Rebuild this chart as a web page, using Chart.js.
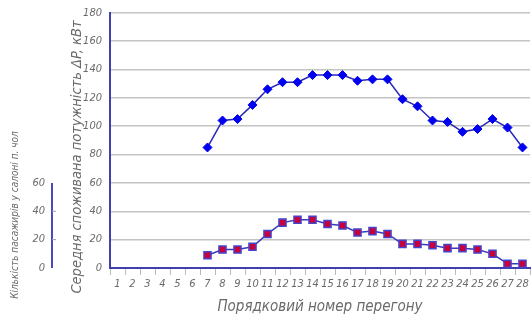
<!DOCTYPE html>
<html><head><meta charset="utf-8">
<script src="https://cdn.jsdelivr.net/npm/chart.js@4"></script>
<style>html,body{margin:0;padding:0;background:#fff}#wrap{width:532px;height:323px}</style>
</head><body><div id="wrap"><canvas id="c" width="532" height="323"></canvas></div>
<script>
const categories = ['1','2','3','4','5','6','7','8','9','10','11','12','13','14','15','16','17','18','19','20','21','22','23','24','25','26','27','28'];
const powerValues = [null,null,null,null,null,null,85,104,105,115,126,131,131,136,136,136,132,133,133,119,114,104,103,96,98,105,99,85];
const passengerValues = [null,null,null,null,null,null,9,13,13,15,24,32,34,34,31,30,25,26,24,17,17,16,14,14,13,10,3,3];
const yTitle = 'Середня споживана потужність ΔP, кВт';
const y1Title = 'Кількість пасажирів у салоні п. чол';
const xTitle = 'Порядковий номер перегону';

const FONT = "'Liberation Sans Narrow','DejaVu Sans Condensed',sans-serif";
const TXT = '#6a6a6a';

const overlay = {
  id: 'overlay',
  afterDraw(chart) {
    const ctx = chart.ctx;
    const y1 = chart.scales.y1;
    ctx.save();
    const lx = y1.right - 4;
    ctx.strokeStyle = '#4a4ab8';
    ctx.lineWidth = 2;
    ctx.beginPath();
    ctx.moveTo(lx, y1.getPixelForValue(0));
    ctx.lineTo(lx, y1.getPixelForValue(60));
    ctx.stroke();
    ctx.lineWidth = 1;
    ctx.strokeStyle = '#9a9ad0';
    [20, 40].forEach(v => {
      const py = y1.getPixelForValue(v);
      ctx.beginPath(); ctx.moveTo(lx, py); ctx.lineTo(lx + 4, py); ctx.stroke();
    });
    ctx.fillStyle = TXT;
    ctx.textAlign = 'center';
    ctx.textBaseline = 'middle';
    ctx.save();
    ctx.translate(77, 157);
    ctx.rotate(-Math.PI / 2);
    ctx.font = "italic 14.5px " + FONT;
    ctx.fillText(yTitle, 0, 0);
    ctx.restore();
    ctx.save();
    ctx.translate(15, 215);
    ctx.rotate(-Math.PI / 2);
    ctx.font = "italic 10px " + FONT;
    ctx.fillText(y1Title, 0, 0);
    ctx.restore();
    ctx.restore();
  }
};

new Chart(document.getElementById('c'), {
  type: 'line',
  data: {
    labels: categories,
    datasets: [
      {
        data: powerValues,
        yAxisID: 'y',
        borderColor: '#2626b8',
        borderWidth: 1.5,
        pointStyle: 'rectRot',
        pointRadius: 4.5,
        pointBackgroundColor: '#0000f0',
        pointBorderColor: '#0000f0',
        pointBorderWidth: 1,
        tension: 0,
        clip: false
      },
      {
        data: passengerValues,
        yAxisID: 'y1',
        borderColor: '#3a3ac0',
        borderWidth: 1.5,
        pointStyle: 'rect',
        pointRadius: 5,
        pointBackgroundColor: '#c8003c',
        pointBorderColor: '#4444cc',
        pointBorderWidth: 1.5,
        tension: 0,
        clip: false
      }
    ]
  },
  options: {
    responsive: false,
    animation: false,
    events: [],
    layout: { autoPadding: false, padding: { top: 12.7, right: 2, left: 0, bottom: 0 } },
    plugins: { legend: { display: false }, tooltip: { enabled: false } },
    scales: {
      x: {
        offset: true,
        grid: { display: true, offset: true, drawOnChartArea: false, drawTicks: true, tickLength: 7, color: '#bbbbbb', lineWidth: 1 },
        border: { display: true, color: '#4040b0', width: 2 },
        ticks: { color: TXT, font: { family: FONT, size: 11, style: 'italic' }, padding: 3, maxRotation: 0, autoSkip: false },
        title: { display: true, text: xTitle, color: TXT, font: { family: FONT, size: 15, style: 'italic' }, padding: { top: 4, bottom: 7 } },
        afterFit(s) { s.height = 55; }
      },
      y: {
        position: 'left',
        weight: 0,
        min: 0, max: 180,
        ticks: { stepSize: 20, color: TXT, font: { family: FONT, size: 11, style: 'italic' }, padding: 8 },
        grid: { color: '#c4c4c4', lineWidth: 1.5, drawTicks: false },
        border: { display: true, color: '#4040b0', width: 2 },
        afterFit(s) { s.width = 54; s.paddingTop = 0; s.paddingBottom = 0; }
      },
      y1: {
        position: 'left',
        weight: 10,
        min: 0, max: 180,
        ticks: { stepSize: 20, color: TXT, font: { family: FONT, size: 11, style: 'italic' }, padding: 11,
          callback: v => (v <= 60 ? v : '') },
        grid: { display: false, drawTicks: false },
        border: { display: false },
        afterFit(s) { s.width = 56; s.paddingTop = 0; s.paddingBottom = 0; }
      }
    }
  },
  plugins: [overlay]
});
</script>
</body></html>
